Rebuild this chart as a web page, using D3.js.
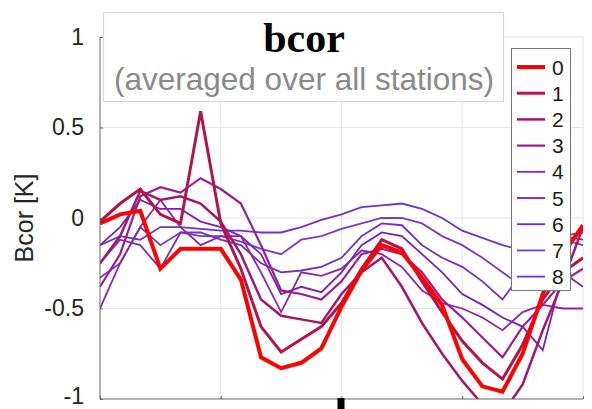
<!DOCTYPE html>
<html>
<head>
<meta charset="utf-8">
<script src="https://cdn.jsdelivr.net/npm/d3@7/dist/d3.min.js"></script>
<style>
  html, body { margin: 0; padding: 0; background: #fff; }
  svg { display: block; }
</style>
</head>
<body>
<svg id="chart" width="592" height="409"></svg>
<script>
// Hour of day for each sample
const hours = d3.range(0, 25);

// Bias correction per lag (K), hourly means
const bcor0 = [-0.03, 0.02, 0.04, -0.28, -0.17, -0.17, -0.17, -0.34, -0.77, -0.83, -0.80, -0.72, -0.49, -0.29, -0.15, -0.19, -0.33, -0.48, -0.78, -0.93, -0.96, -0.75, -0.42, -0.20, -0.04];
const bcor1 = [-0.02, 0.08, 0.16, 0.02, -0.03, 0.59, -0.03, -0.28, -0.60, -0.74, -0.67, -0.60, -0.47, -0.28, -0.12, -0.17, -0.35, -0.52, -0.68, -0.80, -0.89, -0.70, -0.45, -0.30, -0.22];
const bcor2 = [-0.25, -0.10, 0.15, 0.10, 0.12, 0.08, -0.02, -0.20, -0.45, -0.54, -0.56, -0.58, -0.42, -0.30, -0.22, -0.38, -0.58, -0.75, -0.90, -1.03, -1.08, -0.92, -0.62, -0.35, -0.05];
const bcor3 = [-0.38, -0.20, 0.12, 0.17, 0.14, 0.22, 0.16, 0.08, -0.15, -0.40, -0.42, -0.45, -0.35, -0.20, -0.17, -0.20, -0.30, -0.45, -0.55, -0.66, -0.77, -0.60, -0.48, -0.35, -0.28];
const bcor4 = [-0.50, -0.25, -0.05, 0.10, -0.05, -0.15, -0.10, -0.10, -0.30, -0.52, -0.30, -0.32, -0.28, -0.18, -0.20, -0.27, -0.40, -0.47, -0.50, -0.55, -0.62, -0.52, -0.48, -0.50, -0.50];
const bcor5 = [-0.15, -0.05, 0.10, 0.05, 0.05, -0.02, -0.05, -0.10, -0.20, -0.42, -0.38, -0.41, -0.30, -0.15, -0.08, -0.10, -0.20, -0.30, -0.42, -0.48, -0.55, -0.60, -0.73, -0.30, -0.38];
const bcor6 = [-0.25, -0.12, -0.15, -0.28, -0.08, -0.08, -0.12, -0.15, -0.25, -0.30, -0.29, -0.27, -0.22, -0.10, -0.03, -0.04, -0.15, -0.22, -0.27, -0.35, -0.45, -0.30, -0.15, -0.10, -0.12];
const bcor7 = [-0.33, -0.25, -0.05, -0.15, -0.08, -0.10, -0.10, -0.13, -0.17, -0.20, -0.12, -0.10, -0.06, -0.03, 0.00, 0.00, -0.03, -0.10, -0.15, -0.22, -0.30, -0.38, -0.25, -0.10, -0.08];
const bcor8 = [-0.15, -0.10, -0.12, -0.05, -0.05, -0.06, -0.07, -0.07, -0.08, -0.08, -0.05, -0.01, 0.02, 0.06, 0.07, 0.08, 0.05, 0.00, -0.07, -0.11, -0.15, -0.18, -0.20, -0.12, -0.15];

const seriesNames = ["0", "1", "2", "3", "4", "5", "6", "7", "8"];
const seriesValues = [bcor0, bcor1, bcor2, bcor3, bcor4, bcor5, bcor6, bcor7, bcor8];
const seriesColors = ["#ff0000", "#b3154a", "#a3176e", "#9a1d92", "#8d25a8", "#7722b5", "#7430bb", "#7a3cbf", "#6d33c4"];
const seriesWidths = [4, 3, 2.5, 2.2, 1.8, 1.8, 1.8, 1.8, 1.8];

const yTicks = [-1, -0.5, 0, 0.5, 1];
const yTickLabels = ["-1", "-0.5", "0", "0.5", "1"];
const xGridTicks = [6, 12, 18];

const svg = d3.select("#chart");
const plotL = 100, plotR = 583, plotT = 37, plotB = 399;

const x = d3.scaleLinear().domain([0, 24]).range([plotL, plotR]);
const y = d3.scaleLinear().domain([-1, 1]).range([plotB, plotT]);

// grid
svg.append("g").selectAll("line").data([-0.5, 0, 0.5]).join("line")
  .attr("x1", plotL).attr("x2", plotR)
  .attr("y1", d => y(d)).attr("y2", d => y(d))
  .attr("stroke", "#e6e6e6").attr("stroke-width", 1);
svg.append("g").selectAll("line").data(xGridTicks).join("line")
  .attr("x1", d => x(d)).attr("x2", d => x(d))
  .attr("y1", plotT).attr("y2", plotB)
  .attr("stroke", "#e6e6e6").attr("stroke-width", 1);

// light box on top and right
svg.append("path")
  .attr("d", `M${plotL},${plotT}H${plotR}V${plotB}`)
  .attr("fill", "none").attr("stroke", "#e0e0e0").attr("stroke-width", 1);

// data lines
svg.append("clipPath").attr("id", "plotclip")
  .append("rect").attr("x", plotL).attr("y", plotT)
  .attr("width", plotR - plotL).attr("height", plotB - plotT);

const line = d3.line().x((d, i) => x(hours[i])).y(d => y(d));
const linesG = svg.append("g").attr("clip-path", "url(#plotclip)");
// draw in reverse so lag 0 sits on top
for (let k = seriesValues.length - 1; k >= 0; k--) {
  linesG.append("path")
    .attr("d", line(seriesValues[k]))
    .attr("fill", "none")
    .attr("stroke", seriesColors[k])
    .attr("stroke-width", seriesWidths[k])
    .attr("stroke-linejoin", "miter");
}

// axes
const yAxis = d3.axisLeft(y).tickValues(yTicks)
  .tickFormat((d, i) => yTickLabels[i]).tickSize(-3).tickPadding(16);
const yg = svg.append("g").attr("transform", `translate(${plotL},0)`).call(yAxis);
yg.select(".domain").attr("stroke", "#666").attr("d", `M0,${plotT}V${plotB}`);
yg.selectAll(".tick line").attr("stroke", "#666");
yg.selectAll(".tick text").attr("font-family", "Liberation Sans, Arial, sans-serif")
  .attr("font-size", 23).attr("fill", "#262626")
  .attr("y", d => d === -1 ? -3 : 0);

const xAxis = d3.axisBottom(x).tickValues([0, 6, 12, 18, 24]).tickFormat("").tickSize(-3);
const xg = svg.append("g").attr("transform", `translate(0,${plotB})`).call(xAxis);
xg.select(".domain").attr("stroke", "#666").attr("d", `M${plotL},0H${plotR}`);
xg.selectAll(".tick line").attr("stroke", "#666");

// marker below the axis at noon
svg.append("rect").attr("x", x(12) - 4).attr("y", plotB - 1)
  .attr("width", 7).attr("height", 12).attr("fill", "#000");

// y label
svg.append("text")
  .attr("transform", `translate(33,${y(0)}) rotate(-90)`)
  .attr("text-anchor", "middle")
  .attr("font-family", "Liberation Sans, Arial, sans-serif")
  .attr("font-size", 25).attr("fill", "#262626")
  .text("Bcor [K]");

// title box
svg.append("rect").attr("x", 103.5).attr("y", 12.5).attr("width", 400).attr("height", 89)
  .attr("fill", "#fff").attr("stroke", "#d9d9d9").attr("stroke-width", 1.2);
svg.append("text").attr("x", 304).attr("y", 52).attr("text-anchor", "middle")
  .attr("font-family", "Liberation Serif, serif").attr("font-weight", "bold")
  .attr("font-size", 42).attr("fill", "#000").text("bcor");
svg.append("text").attr("x", 304).attr("y", 90).attr("text-anchor", "middle")
  .attr("font-family", "Liberation Sans, Arial, sans-serif")
  .attr("font-size", 31.5).attr("fill", "#8a8a8a").text("(averaged over all stations)");

// legend
const lg = svg.append("g");
lg.append("rect").attr("x", 511.5).attr("y", 48.5).attr("width", 59).attr("height", 242)
  .attr("fill", "#fff").attr("stroke", "#777").attr("stroke-width", 1);
const rowY = i => 67 + i * 26.2;
seriesNames.forEach((name, i) => {
  lg.append("line").attr("x1", 517).attr("x2", 545)
    .attr("y1", rowY(i)).attr("y2", rowY(i))
    .attr("stroke", seriesColors[i]).attr("stroke-width", seriesWidths[i]);
  lg.append("text").attr("x", 552).attr("y", rowY(i)).attr("dy", "0.36em")
    .attr("font-family", "Liberation Sans, Arial, sans-serif")
    .attr("font-size", 21).attr("fill", "#1a1a1a").text(name);
});
</script>
</body>
</html>
